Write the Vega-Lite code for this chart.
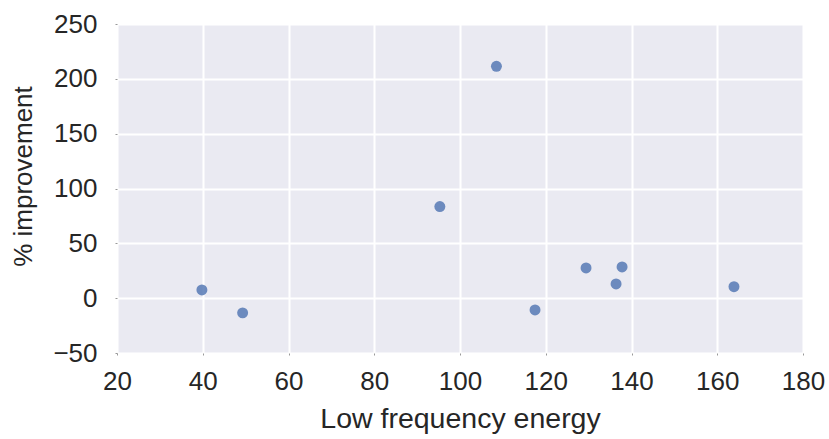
{
  "$schema": "https://vega.github.io/schema/vega-lite/v6.json",
  "width": 686,
  "height": 329,
  "autosize": {"type": "none"},
  "padding": {"left": 117, "top": 24, "right": 26, "bottom": 86},
  "background": "white",
  "config": {
    "view": {"fill": "#EAEAF2", "stroke": null},
    "font": "Liberation Sans",
    "axis": {
      "grid": true,
      "gridColor": "white",
      "gridWidth": 2,
      "domain": false,
      "tickColor": "#999999",
      "tickSize": 2,
      "labelFont": "Liberation Sans",
      "labelFontSize": 26,
      "labelColor": "#262626",
      "titleFont": "Liberation Sans",
      "titleFontWeight": "normal",
      "titleColor": "#262626"
    }
  },
  "data": {
    "values": [
      {"energy": 39.8, "improvement": 7.5},
      {"energy": 49.3, "improvement": -13.4},
      {"energy": 95.3, "improvement": 83.5},
      {"energy": 108.5, "improvement": 211.4},
      {"energy": 117.5, "improvement": -10.7},
      {"energy": 129.4, "improvement": 27.6},
      {"energy": 136.4, "improvement": 13.0},
      {"energy": 137.8, "improvement": 28.5},
      {"energy": 163.9, "improvement": 10.5}
    ]
  },
  "mark": {"type": "point", "filled": true, "shape": "circle", "size": 120, "color": "#4C72B0", "opacity": 0.8},
  "encoding": {
    "x": {
      "field": "energy", "type": "quantitative",
      "scale": {"domain": [20, 180], "nice": false, "zero": false},
      "axis": {"values": [20, 40, 60, 80, 100, 120, 140, 160, 180], "title": "Low frequency energy", "titleFontSize": 28.5, "labelPadding": 13, "titlePadding": 10, "labelFlush": false}
    },
    "y": {
      "field": "improvement", "type": "quantitative",
      "scale": {"domain": [-50, 250], "nice": false, "zero": false},
      "axis": {"values": [-50, 0, 50, 100, 150, 200, 250], "title": "% improvement", "titleFontSize": 26, "titleY": 152, "labelPadding": 18, "titlePadding": 16, "labelFlush": false}
    }
  }
}
